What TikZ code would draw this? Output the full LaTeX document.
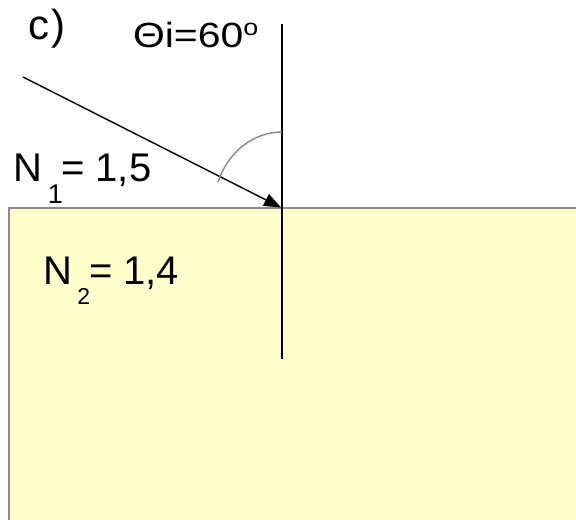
\documentclass[tikz,border=0pt]{standalone}
\usepackage{fontspec}
\setmainfont{Liberation Sans}
\usetikzlibrary{arrows.meta}
\definecolor{medium}{HTML}{FFFFCC}
\definecolor{edgegray}{HTML}{8C8C8C}
\definecolor{arcgray}{HTML}{888888}
\begin{document}
\begin{tikzpicture}[x=1bp,y=-1bp,
  lbl/.style={inner sep=0pt, outer sep=0pt, anchor=base west, text=black},
  ray/.style={line width=1.4bp, black},
  normal/.style={line width=1.4bp, black}]
\useasboundingbox (0,0) rectangle (576,520);
% second medium
\fill[medium] (9,208) rectangle (580,525);
\draw[edgegray, line width=1.6bp] (580,208) -- (9,208) -- (9,525);
% coordinates
\coordinate (ntop) at (282,24);
\coordinate (nbot) at (282,359);
\coordinate (hit) at (282,208);
\coordinate (src) at (23,77);
% normal line
\draw[normal] (ntop) -- (nbot);
% incident ray
\draw[ray, -{Triangle[length=17bp,width=13bp]}, shorten >=1bp] (src) -- (hit);
% angle arc
\draw[arcgray, line width=1.4bp] (282,132) arc[start angle=-90, end angle=-160, x radius=68, y radius=76];
% labels
\node[lbl] (title) at (28,40) {\fontsize{42bp}{42bp}\selectfont c\kern3bp)};
\node[lbl] (theta) at (133,48) {\scalebox{1.17}[1]{\fontsize{35bp}{35bp}\selectfont Θi=60\raisebox{12bp}{\fontsize{23bp}{23bp}\selectfont o}}};
\node[lbl] (n1) at (13.7,182) {\fontsize{40bp}{40bp}\selectfont N\kern5.4bp\raisebox{-22bp}{\fontsize{27bp}{27bp}\selectfont 1}\kern-1.8bp\fontsize{40bp}{40bp}\selectfont= 1,5};
\node[lbl] (n2) at (43.7,284) {\fontsize{40bp}{40bp}\selectfont N\kern4.7bp\raisebox{-20bp}{\fontsize{23bp}{23bp}\selectfont 2}\kern-1bp\fontsize{40bp}{40bp}\selectfont= 1,4};
\end{tikzpicture}
\end{document}
